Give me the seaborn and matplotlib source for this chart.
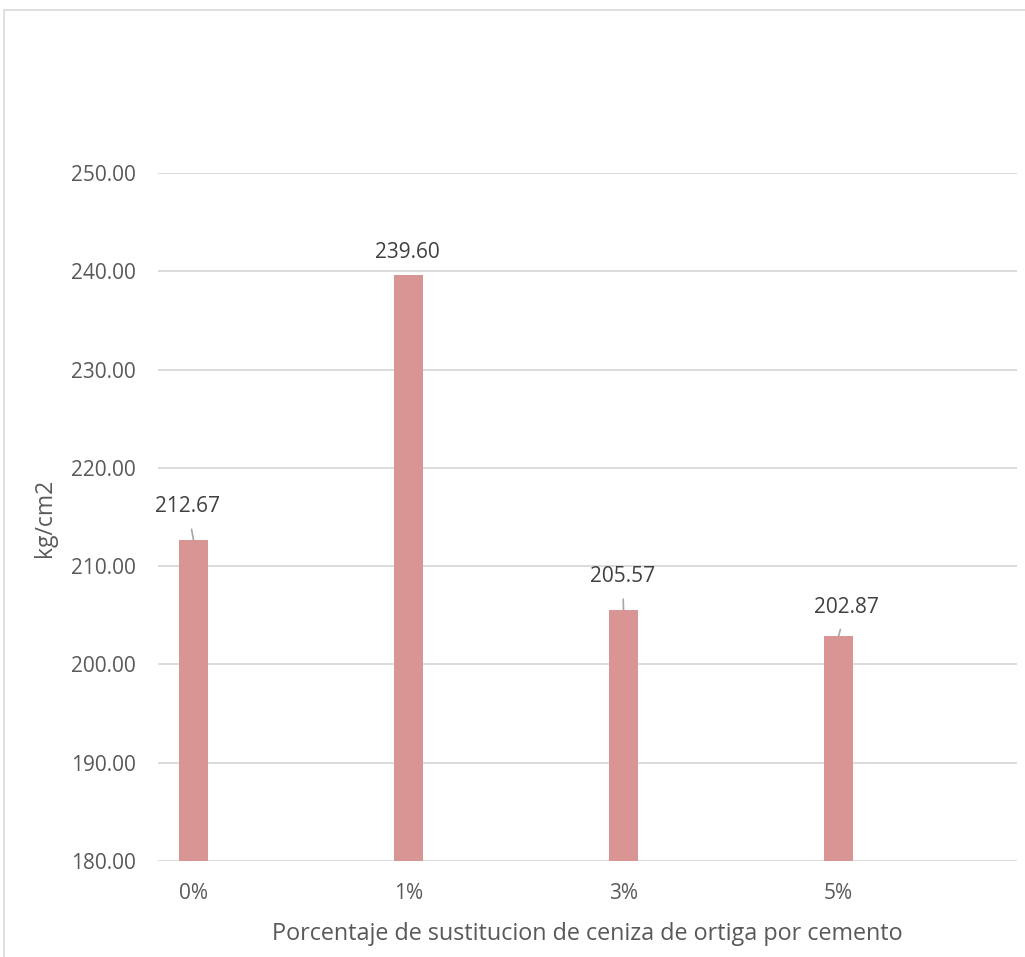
import matplotlib
matplotlib.use("Agg")
import matplotlib.pyplot as plt
import seaborn as sns
import pandas as pd
from matplotlib.patches import Rectangle

categories = ["0%", "1%", "3%", "5%"]
values = [212.67, 239.60, 205.57, 202.87]
y_ticks = [180, 190, 200, 210, 220, 230, 240, 250]
x_title = "Porcentaje de sustitucion de ceniza de ortiga por cemento"
y_title = "kg/cm2"

sns.set_theme(style="white")
plt.rcParams['font.family'] = ['Open Sans', 'DejaVu Sans']

W, H = 1025, 957
fig = plt.figure(figsize=(W / 100, H / 100), dpi=100)
ax = fig.add_axes([158 / W, 1 - 861 / H, (1017 - 158) / W, (861 - 173) / H])

df = pd.DataFrame({"cat": categories, "val": values})
sns.barplot(data=df, x="cat", y="val", ax=ax, color="#D99594", width=0.135,
            saturation=1, edgecolor="none", zorder=3)

ax.set_ylim(180, 250)
ax.set_xlim(-0.165, 3.83)
ax.set_yticks(y_ticks)
ax.set_yticklabels([f"{t:.2f}" for t in y_ticks])
ax.yaxis.grid(True, color="#D9D9D9", linewidth=1.3, zorder=0)
ax.xaxis.grid(False)
for s in ax.spines.values():
    s.set_visible(False)
ax.tick_params(axis="y", length=0, pad=16, labelsize=15, labelcolor="#595959")
ax.tick_params(axis="x", length=0, pad=16, labelsize=15, labelcolor="#595959")
ax.set_xlabel(x_title, fontsize=16.8, color="#595959", labelpad=13)
ax.set_ylabel("")
fig.text(45 / W, 1 - 518 / H, y_title, rotation=90, ha="center", va="center",
         fontsize=16.5, color="#595959")

# data labels (offsets in points from bar top), leader lines where Excel moved labels
offsets = [(-4.3, 24), (-0.7, 16.5), (-0.7, 24), (5.8, 21)]
leaders = [True, False, True, True]
for i, (v, (dx, dy), ld) in enumerate(zip(values, offsets, leaders)):
    kw = {}
    if ld:
        kw["arrowprops"] = dict(arrowstyle="-", color="#A6A6A6", lw=1.2,
                                shrinkA=6.5, shrinkB=0)
    ax.annotate(f"{v:.2f}", xy=(i, v), xytext=(dx, dy), textcoords="offset points",
                ha="center", va="center", fontsize=15, color="#404040", **kw)

fig.add_artist(Rectangle((3.5 / W, -0.1), 2, (H - 9.5) / H + 0.1,
                         transform=fig.transFigure, fill=False,
                         edgecolor="#D9D9D9", linewidth=1.2))

fig.savefig("out.png", dpi=100, facecolor="white")
